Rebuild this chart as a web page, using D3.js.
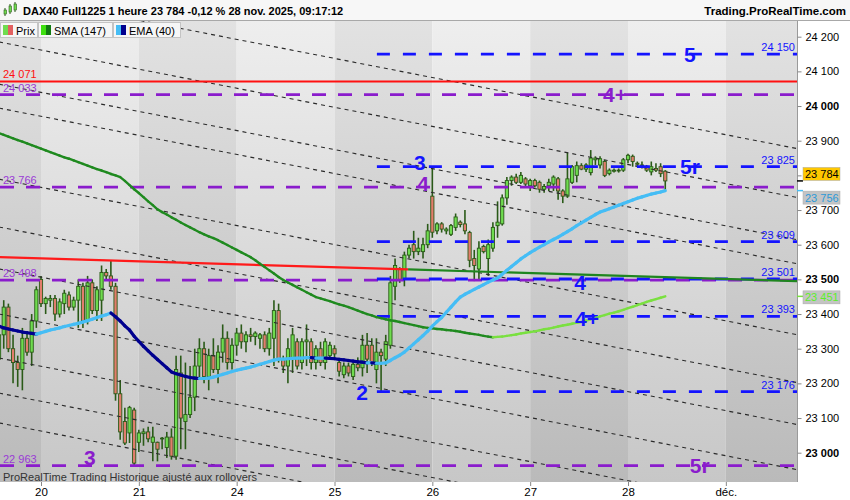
<!DOCTYPE html>
<html><head><meta charset="utf-8">
<script src="https://cdn.jsdelivr.net/npm/d3@7"></script>
<style>body{margin:0;background:#fff;overflow:hidden}svg{display:block;font-family:"Liberation Sans",Arial,sans-serif}</style>
</head><body><svg id="c" width="850" height="500"></svg>
<script>
// ---------------- DATA ----------------
const dayLabels = ["20","21","24","25","26","27","28","déc."];
const dayStartIndex = [9,30,51,72,93,114,135,156];
const opens = [23270,23340,23420,23300,23260,23240,23330,23290,23380,
23500,23430,23440,23445,23400,23430,23455,23420,23440,23480,23380,23490,23410,23440,23520,23510,23480,23170,23090,23057,23123,
23030,23055,23060,23030,23030,23040,23015,23045,22990,23230,23090,23110,23160,23250,23300,23220,23280,23240,23290,23330,23260,
23310,23345,23320,23340,23335,23330,23340,23300,23330,23410,23270,23250,23270,23320,23260,23320,23320,23260,23300,23260,23280,
23300,23260,23225,23250,23220,23255,23245,23310,23310,23240,23290,23270,23310,23480,23530,23500,23570,23600,23580,23580,23600,
23740,23640,23660,23640,23630,23650,23665,23660,23635,23560,23530,23595,23560,23590,23655,23660,23735,23785,23795,23780,23790,
23770,23785,23780,23760,23770,23775,23790,23755,23740,23780,23800,23828,23818,23808,23845,23830,23840,23805,23812,23815,23815,
23845,23855,23835,23830,23825,23810,23820,23825,23812];
const highs = [23360,23440,23430,23340,23280,23360,23350,23400,23480,
23510,23450,23455,23455,23445,23470,23465,23450,23500,23490,23510,23500,23480,23540,23530,23555,23490,23210,23130,23135,23130,
23066,23070,23075,23075,23032,23045,23060,23070,23280,23280,23260,23250,23300,23330,23320,23300,23330,23310,23370,23350,23330,
23360,23370,23350,23360,23350,23345,23350,23360,23440,23430,23280,23330,23360,23330,23330,23370,23330,23310,23320,23330,23320,
23310,23270,23260,23260,23260,23275,23340,23345,23330,23330,23300,23340,23510,23560,23535,23580,23600,23640,23620,23620,23660,
23822,23665,23665,23650,23660,23690,23670,23700,23640,23585,23610,23600,23615,23665,23725,23745,23795,23800,23805,23810,23795,
23790,23790,23785,23775,23790,23800,23795,23760,23865,23830,23840,23835,23835,23873,23855,23855,23845,23820,23820,23820,23850,
23862,23860,23840,23840,23830,23840,23835,23835,23815];
const lows = [23240,23300,23290,23200,23190,23180,23280,23250,23360,
23420,23400,23420,23380,23390,23400,23410,23410,23360,23360,23370,23400,23380,23380,23500,23470,23150,23037,23022,23028,22963,
23002,23020,23030,22975,22975,23010,22985,22980,22980,23010,23010,23100,23120,23210,23200,23180,23230,23200,23260,23240,23240,
23280,23300,23290,23320,23310,23300,23290,23280,23250,23260,23230,23200,23230,23240,23240,23250,23240,23240,23250,23240,23270,
23270,23220,23215,23220,23210,23235,23220,23230,23250,23200,23176,23250,23300,23440,23490,23480,23560,23560,23570,23560,23590,
23620,23630,23635,23630,23625,23640,23650,23630,23535,23495,23500,23575,23510,23580,23620,23655,23715,23770,23775,23775,23765,
23755,23765,23750,23750,23755,23755,23730,23720,23735,23775,23780,23815,23810,23800,23830,23820,23795,23800,23808,23808,23810,
23835,23825,23825,23820,23810,23800,23810,23795,23755];
const closes = [23340,23420,23300,23260,23240,23330,23290,23380,23470,
23430,23445,23445,23400,23435,23460,23420,23440,23480,23380,23490,23410,23470,23520,23510,23480,23170,23060,23028,23130,22970,
23057,23060,23040,23045,23010,23042,23045,22990,23240,23100,23110,23160,23250,23300,23220,23280,23240,23290,23330,23260,23310,
23345,23320,23340,23335,23345,23340,23300,23345,23410,23270,23250,23300,23340,23250,23320,23325,23260,23300,23260,23320,23310,
23285,23235,23250,23230,23255,23245,23310,23270,23260,23290,23280,23320,23490,23540,23500,23570,23590,23580,23590,23600,23640,
23636,23660,23645,23645,23655,23680,23658,23640,23555,23540,23590,23580,23600,23650,23665,23735,23785,23795,23780,23800,23775,
23785,23770,23760,23768,23780,23795,23755,23740,23790,23825,23828,23818,23830,23850,23850,23848,23800,23815,23815,23813,23845,
23858,23840,23832,23828,23815,23825,23815,23805,23784];
const smaValues = [23922,23917,23912,23907,23902,23897,23892,23887,23882,23877,
23872,23867,23862,23857,23852,23848,23843,23838,23833,23828,23823,23818,23814,23809,23804,23800,23795,
23784,23772,23760,23749,23737,23725,23714,23702,
23694,23687,23679,23672,23664,23657,23650,23643,23636,
23630,23624,23619,23613,
23606,23599,23592,23585,23578,23571,23564,
23555,23545,23536,23526,23517,23507,23498,
23491,23484,23477,23470,23463,23456,23449,
23445,23441,23437,23432,23428,23424,23420,
23415,23410,23405,23400,23396,23391,
23388,23385,23382,23380,23377,
23374,23371,23368,23365,23362,
23360,23359,23357,23356,23354,23353,
23351,23349,23346,23344,23342,23340,23337,23335,23333,
23334,23335,23337,23339,23341,23344,23346,23348,23350,23353,
23356,23358,23361,23364,23367,23369,23372,23375,23377,
23381,23385,23389,23393,23397,23401,23404,23408,
23412,23417,23421,23426,23430,23435,23439,23443,23447,23451];
const emaValues = [23365,23360,23357,23354,23351,23348,23346,23344,23342,
23346,23350,23354,23357,23360,23364,23367,23370,23373,23377,
23381,23385,23390,23394,23398,23403,
23392,23380,23366,23354,23336,23321,23307,23294,23281,23269,23257,23245,23233,
23228,23224,23220,23217,23215,23214,23214,23215,
23218,23222,23226,23230,23234,23238,23241,23244,23247,
23251,23255,23259,23263,23267,23270,
23270,23271,23272,23273,23273,23274,23274,23273,23273,23273,23272,23271,23269,23268,23266,23264,23262,23261,23259,23259,23258,23258,23259,
23266,23274,23281,23290,23302,23314,23326,23338,23351,
23365,23378,23390,23405,23420,23435,23449,
23457,23464,23471,23478,23485,23492,23498,23504,
23515,23526,23537,23548,23559,
23568,23577,23585,23593,
23600,23608,23615,23622,
23630,23638,23646,23655,23663,
23671,23679,23687,23694,
23699,23704,23709,23714,
23719,23724,23729,23734,
23738,23742,23746,23749,
23752,23756];
const priceTicks = [23000,23100,23200,23300,23400,23500,23600,23700,23800,23900,24000,24100,24200];
const boldTicks = [23000,23500,24000];
const resistanceLevel = 24071;
const purpleLevels = [24033,23766,23498,22963];
const blueLevels = [24150,23825,23609,23501,23393,23176];
const blueLevelsStart = 81.1;          // bar index where the blue levels begin
const trendPoints = [[0,23564],[171.3,23495]];
const trendBreak = 87.8;
const channelStartPrices = [24326,24185,24063,23994,23789,23651,23530,23400,23273,23172,23086];
const channelSlope = -2.62;            // price per bar
const waveLabels = [
  {t:"5", i:148.3, p:24150, c:"blue"},
  {t:"4+", i:132.2, p:24033, c:"purple"},
  {t:"3", i:90.3, p:23838, c:"blue"},
  {t:"5r", i:148.3, p:23825, c:"blue"},
  {t:"4", i:91, p:23778, c:"purple"},
  {t:"4", i:124.7, p:23492, c:"blue"},
  {t:"4+", i:126.2, p:23388, c:"blue"},
  {t:"2", i:77.9, p:23175, c:"blue"},
  {t:"3", i:19.5, p:22985, c:"purple"},
  {t:"5r", i:150.4, p:22962, c:"purple"}
];
const lastPrice = 23784, emaLast = 23756, smaLast = 23451;
const titleText = "DAX40 Full1225 1 heure 23 784 -0,12 % 28 nov. 2025, 09:17:12";

// ---------------- LAYOUT ----------------
const plotL=0, plotR=797, plotT=21, plotB=482;
const COL = {blue:"#1414ff", purple:"#8a1ccc", purpleText:"#9a3ad6", red:"#ff1010",
  up:"#6fdc4f", down:"#e27d6c", edge:"#2a5a18", emaUp:"#45bdf5", emaDn:"#00008f",
  smaUp:"#7ae040", smaDn:"#1f8a1f"};
const svg = d3.select("#c");
const defs = svg.append("defs");
function grad(id,c1,c2){const g=defs.append("linearGradient").attr("id",id).attr("gradientUnits","userSpaceOnUse")
  .attr("x1",0).attr("y1",plotT).attr("x2",0).attr("y2",plotB);
  g.append("stop").attr("offset",0).attr("stop-color",c1); g.append("stop").attr("offset",1).attr("stop-color",c2);}
grad("gLight","#eeeeee","#c7c7c7"); grad("gDark","#e2e2e2","#bababa");
grad("gTitle","#f7f7f7","#ececec");
defs.append("clipPath").attr("id","clip").append("rect").attr("x",plotL).attr("y",plotT).attr("width",plotR-plotL).attr("height",plotB-plotT);

const x = d3.scaleLinear().domain([dayStartIndex[0], dayStartIndex[6]]).range([41,628]);
const y = d3.scaleLinear().domain([23000,24200]).range([452.7,36.7]);
const fmt = v => d3.format(",")(v).replace(/,/g," ");

// background
svg.append("rect").attr("width",850).attr("height",500).attr("fill","#fff");
const bandEdges = [plotL, ...dayStartIndex.map(d=>x(d)), plotR];
const bands = svg.append("g");
for(let k=0;k<bandEdges.length-1;k++){
  bands.append("rect").attr("x",bandEdges[k]).attr("y",plotT).attr("width",Math.max(0,bandEdges[k+1]-bandEdges[k]))
    .attr("height",plotB-plotT).attr("fill",k%2===0?"url(#gDark)":"url(#gLight)");
}
const plot = svg.append("g").attr("clip-path","url(#clip)");

// candles
const idx = d3.range(closes.length);
const cg = plot.append("g");
cg.selectAll("line.w").data(idx).join("line").attr("x1",i=>x(i)).attr("x2",i=>x(i))
  .attr("y1",i=>y(highs[i])).attr("y2",i=>y(lows[i])).attr("stroke",COL.edge).attr("stroke-width",1.6);
cg.selectAll("rect.b").data(idx).join("rect")
  .attr("x",i=>x(i)-1.6).attr("width",3.2)
  .attr("y",i=>y(Math.max(opens[i],closes[i])))
  .attr("height",i=>Math.max(0.8,Math.abs(y(opens[i])-y(closes[i]))))
  .attr("fill",i=>closes[i]>=opens[i]?COL.up:COL.down)
  .attr("stroke",COL.edge).attr("stroke-width",0.9);

// diagonal channel lines
const xEnd = x.invert(plotR);
plot.append("g").selectAll("line").data(channelStartPrices).join("line")
  .attr("x1",x(0)).attr("y1",p=>y(p)).attr("x2",x(xEnd)).attr("y2",p=>y(p+channelSlope*xEnd))
  .attr("stroke","#2a2a2a").attr("stroke-width",1.1).attr("stroke-dasharray","4,4");

// horizontal levels
plot.append("line").attr("x1",plotL).attr("x2",plotR).attr("y1",y(resistanceLevel)).attr("y2",y(resistanceLevel))
  .attr("stroke",COL.red).attr("stroke-width",2);
plot.append("g").selectAll("line").data(purpleLevels).join("line")
  .attr("x1",plotL).attr("x2",plotR).attr("y1",d=>y(d)).attr("y2",d=>y(d))
  .attr("stroke",COL.purple).attr("stroke-width",2.8).attr("stroke-dasharray","14,12");
plot.append("g").selectAll("line").data(blueLevels).join("line")
  .attr("x1",x(blueLevelsStart)).attr("x2",plotR).attr("y1",d=>y(d)).attr("y2",d=>y(d))
  .attr("stroke",COL.blue).attr("stroke-width",2.8).attr("stroke-dasharray","13,13");

// trendline (red then green)
const trendAt = i => trendPoints[0][1] + (trendPoints[1][1]-trendPoints[0][1])*(i-trendPoints[0][0])/(trendPoints[1][0]-trendPoints[0][0]);
plot.append("line").attr("x1",x(trendPoints[0][0])).attr("y1",y(trendPoints[0][1])).attr("x2",x(trendBreak)).attr("y2",y(trendAt(trendBreak)))
  .attr("stroke","#ff1a1a").attr("stroke-width",2.2);
plot.append("line").attr("x1",x(trendBreak)).attr("y1",y(trendAt(trendBreak))).attr("x2",x(trendPoints[1][0])).attr("y2",y(trendPoints[1][1]))
  .attr("stroke","#1f861f").attr("stroke-width",2.2);

// colored indicator lines
function coloredLine(vals, upC, dnC, w){
  const line = d3.line().x(d=>x(d.i)).y(d=>y(d.v));
  const g = plot.append("g");
  for(let i=1;i<vals.length;i++){
    const c = vals[i] < vals[i-1] ? dnC : upC;
    g.append("path").attr("d",line([{i:i-1,v:vals[i-1]},{i:i,v:vals[i]}]))
      .attr("stroke",c).attr("stroke-width",w).attr("fill","none").attr("stroke-linecap","round");
  }
}
coloredLine(smaValues, COL.smaUp, COL.smaDn, 2.4);
coloredLine(emaValues, COL.emaUp, COL.emaDn, 3.2);

// level labels
const lab = svg.append("g").attr("font-size",11);
lab.append("text").attr("x",3).attr("y",y(resistanceLevel)-3).attr("fill",COL.red).text(fmt(resistanceLevel));
purpleLevels.forEach(p=>lab.append("text").attr("x",3).attr("y",y(p)-3).attr("fill",COL.purpleText).text(fmt(p)));
blueLevels.forEach(p=>lab.append("text").attr("x",795).attr("y",y(p)-3).attr("text-anchor","end").attr("fill",COL.blue).text(fmt(p)));

// wave labels
svg.append("g").selectAll("text").data(waveLabels).join("text")
  .attr("x",d=>x(d.i)).attr("y",d=>y(d.p)).attr("dy","0.36em").attr("text-anchor","middle")
  .attr("font-size",21).attr("font-weight","bold").attr("fill",d=>d.c==="blue"?COL.blue:COL.purple).text(d=>d.t);

// footer text
svg.append("text").attr("x",3).attr("y",481).attr("font-size",11).attr("fill","#333").text("ProRealTime Trading  Historique ajusté aux rollovers");

// axes
svg.append("rect").attr("x",plotR).attr("y",plotT).attr("width",850-plotR).attr("height",500-plotT).attr("fill","#fff");
svg.append("rect").attr("x",0).attr("y",plotB).attr("width",850).attr("height",500-plotB).attr("fill","#fff");
const ya = svg.append("g").attr("transform",`translate(${plotR+0.5},0)`)
  .call(d3.axisRight(y).tickValues(priceTicks).tickSize(4).tickPadding(4).tickFormat(fmt));
ya.select(".domain").attr("stroke","#9a9a9a").attr("d",`M0,${plotT}V${plotB}`);
ya.selectAll(".tick line").attr("stroke","#888");
ya.selectAll(".tick text").attr("font-size",11).attr("fill","#000").attr("font-family","Liberation Sans, Arial, sans-serif")
  .attr("font-weight",d=>boldTicks.includes(d)?"bold":"normal");
const xa = svg.append("g").attr("transform",`translate(0,${plotB})`)
  .call(d3.axisBottom(x).tickValues(dayStartIndex).tickSize(4).tickPadding(2).tickFormat((d,i)=>dayLabels[i]));
xa.select(".domain").remove();
xa.selectAll(".tick line").attr("stroke","#888");
xa.selectAll(".tick text").attr("font-size",11.5).attr("fill","#000").attr("font-family","Liberation Sans, Arial, sans-serif");

// price boxes on the axis
function priceBox(v, shift, bg, fg, tick){
  const yy = y(v);
  svg.append("line").attr("x1",plotR).attr("x2",plotR+6).attr("y1",yy).attr("y2",yy).attr("stroke",tick).attr("stroke-width",1.5);
  svg.append("rect").attr("x",803).attr("y",yy+shift-6.5).attr("width",37).attr("height",13).attr("fill",bg).attr("stroke","#aaa").attr("stroke-width",0.5);
  svg.append("text").attr("x",805).attr("y",yy+shift).attr("dy","0.36em").attr("font-size",11).attr("fill",fg).text(fmt(v));
}
priceBox(lastPrice,-7,"#ffc800","#000","#000");
priceBox(emaLast,7,"#c4c4c4","#2c9ad8","#45bdf5");
priceBox(smaLast,1,"#c4c4c4","#5bee2a","#7ae040");

// title bar
svg.append("rect").attr("x",0).attr("y",0).attr("width",850).attr("height",20).attr("fill","url(#gTitle)");
svg.append("line").attr("x1",0).attr("x2",850).attr("y1",20.5).attr("y2",20.5).attr("stroke","#a8a8a8");
const ic = svg.append("g");
[[4,9,14],[9,5,12],[14,3,10]].forEach(([cx,t,b])=>{
  ic.append("line").attr("x1",cx+1).attr("x2",cx+1).attr("y1",t-1).attr("y2",b+2).attr("stroke","#2a5a18");
  ic.append("rect").attr("x",cx).attr("y",t+1).attr("width",2.5).attr("height",b-t-1).attr("fill","#6fdc4f").attr("stroke","#2a5a18").attr("stroke-width",0.6);
});
svg.append("text").attr("x",23).attr("y",15).attr("font-size",11).attr("font-weight","bold").attr("fill","#000").text(titleText);
svg.append("text").attr("x",846).attr("y",15).attr("text-anchor","end").attr("font-size",11.5).attr("font-weight","bold").attr("fill","#000").text("Trading.ProRealTime.com");

// legend
const legend = [{t:"Prix",x:0,w:37,c1:"#6fdc4f",c2:"#e26060"},{t:"SMA (147)",x:38,w:74,c1:"#3ee010",c2:"#117a11"},{t:"EMA (40)",x:113,w:67,c1:"#45bdf5",c2:"#00008f"}];
legend.forEach(l=>{
  svg.append("rect").attr("x",l.x+0.5).attr("y",22.5).attr("width",l.w).attr("height",15).attr("fill","#f6f6f6").attr("stroke","#c4c4c4");
  svg.append("rect").attr("x",l.x+3).attr("y",25).attr("width",5).attr("height",10).attr("fill",l.c1);
  svg.append("rect").attr("x",l.x+8).attr("y",25).attr("width",5).attr("height",10).attr("fill",l.c2);
  svg.append("text").attr("x",l.x+16).attr("y",34.5).attr("font-size",11).attr("fill","#000").text(l.t);
});
</script></body></html>
